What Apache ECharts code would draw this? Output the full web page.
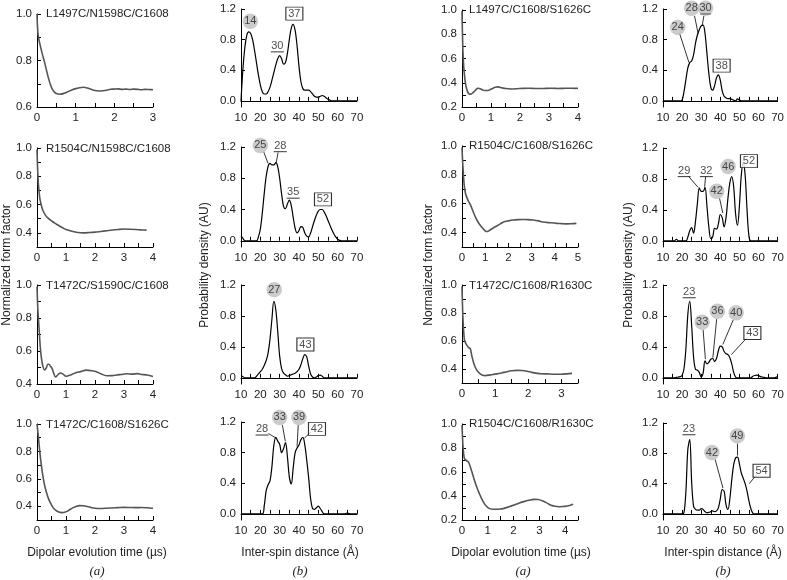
<!DOCTYPE html>
<html><head><meta charset="utf-8">
<script src="https://cdn.jsdelivr.net/npm/echarts@6/dist/echarts.min.js"></script>
<style>html,body{margin:0;padding:0;background:#fff}#c{width:787px;height:580px}</style>
</head><body><div id="c"></div><script>
// ---------- DATA ----------
// Panel titles
const titlesA = ['L1497C/N1598C/C1608','R1504C/N1598C/C1608','T1472C/S1590C/C1608','T1472C/C1608/S1626C'];
const titlesC = ['L1497C/C1608/S1626C','R1504C/C1608/S1626C','T1472C/C1608/R1630C','R1504C/C1608/R1630C'];

// Time-domain traces (t in µs, normalized form factor)
const tA1 = [0,0.02,0.05,0.1,0.15,0.2,0.25,0.3,0.35,0.4,0.45,0.5,0.6,0.7,0.8,0.9,1.0,1.1,1.2,1.3,1.4,1.5,1.6,1.7,1.8,1.9,2.0,2.1,2.2,2.3,2.4,2.5,2.6,2.7,2.8,2.9,3.0];
const fA1 = [1.0,0.925,0.89,0.853,0.82,0.79,0.755,0.722,0.695,0.676,0.664,0.658,0.655,0.659,0.666,0.673,0.679,0.683,0.685,0.682,0.676,0.671,0.669,0.67,0.672,0.676,0.677,0.678,0.676,0.677,0.675,0.677,0.676,0.674,0.676,0.675,0.674];
const tA2 = [0,0.02,0.05,0.1,0.15,0.2,0.3,0.4,0.5,0.6,0.7,0.8,0.9,1.0,1.2,1.4,1.6,1.8,2.0,2.2,2.4,2.6,2.8,3.0,3.2,3.4,3.6,3.78];
const fA2 = [0.99,0.86,0.74,0.64,0.595,0.56,0.522,0.5,0.485,0.47,0.457,0.445,0.434,0.424,0.412,0.403,0.4,0.402,0.405,0.41,0.415,0.42,0.424,0.427,0.426,0.424,0.421,0.419];
const tA3 = [0,0.03,0.07,0.11,0.15,0.2,0.26,0.32,0.37,0.41,0.46,0.52,0.57,0.64,0.72,0.8,0.9,1.0,1.1,1.2,1.36,1.5,1.7,1.9,2.05,2.2,2.4,2.6,2.75,2.9,3.1,3.3,3.45,3.6,3.8,4.0];
const fA3 = [0.99,0.85,0.74,0.63,0.56,0.51,0.485,0.497,0.52,0.52,0.508,0.495,0.468,0.442,0.456,0.467,0.46,0.447,0.452,0.458,0.47,0.475,0.484,0.48,0.474,0.462,0.45,0.451,0.455,0.458,0.462,0.46,0.463,0.458,0.455,0.446];
const tA4 = [0,0.05,0.1,0.15,0.2,0.25,0.3,0.38,0.45,0.55,0.65,0.75,0.85,0.95,1.05,1.15,1.25,1.35,1.47,1.6,1.7,1.85,2.0,2.2,2.4,2.6,2.8,3.0,3.2,3.4,3.6,3.8,4.0];
const fA4 = [1.0,0.9,0.79,0.7,0.625,0.565,0.52,0.465,0.43,0.392,0.37,0.358,0.354,0.356,0.365,0.378,0.39,0.399,0.405,0.404,0.4,0.392,0.386,0.384,0.386,0.388,0.39,0.392,0.391,0.39,0.391,0.389,0.386];
const tC1 = [0,0.03,0.06,0.1,0.14,0.18,0.22,0.27,0.31,0.37,0.43,0.49,0.54,0.6,0.66,0.72,0.77,0.85,0.95,1.05,1.15,1.23,1.3,1.4,1.5,1.7,1.9,2.1,2.3,2.5,2.7,2.9,3.1,3.3,3.5,3.7,3.9,4.0];
const fC1 = [0.99,0.67,0.53,0.43,0.368,0.335,0.314,0.306,0.306,0.316,0.33,0.345,0.355,0.353,0.347,0.34,0.336,0.336,0.341,0.352,0.362,0.366,0.363,0.357,0.352,0.349,0.351,0.354,0.355,0.353,0.352,0.354,0.355,0.353,0.354,0.355,0.354,0.355];
const tC2 = [0,0.04,0.1,0.15,0.19,0.27,0.36,0.5,0.6,0.71,0.82,0.93,1.0,1.07,1.14,1.21,1.35,1.5,1.65,1.79,2.0,2.21,2.42,2.64,2.85,3.07,3.3,3.5,3.8,4.07,4.3,4.5,4.7,4.93];
const fC2 = [0.99,0.856,0.72,0.672,0.651,0.62,0.594,0.537,0.5,0.468,0.443,0.423,0.412,0.407,0.41,0.418,0.432,0.446,0.46,0.473,0.481,0.487,0.49,0.491,0.49,0.487,0.481,0.473,0.468,0.464,0.462,0.46,0.461,0.464];
const tC3 = [0,0.03,0.07,0.1,0.13,0.2,0.25,0.3,0.37,0.45,0.55,0.62,0.7,0.86,1.06,1.2,1.36,1.5,1.66,1.8,1.96,2.1,2.27,2.4,2.57,2.72,2.87,3.0,3.17,3.32];
const fC3 = [0.99,0.753,0.612,0.59,0.576,0.553,0.546,0.49,0.43,0.39,0.365,0.356,0.353,0.358,0.365,0.372,0.381,0.387,0.39,0.389,0.384,0.376,0.369,0.366,0.365,0.363,0.362,0.363,0.365,0.369];
const tC4 = [0,0.04,0.09,0.15,0.2,0.25,0.32,0.4,0.48,0.57,0.67,0.76,0.86,0.95,1.05,1.18,1.31,1.47,1.63,1.82,2.02,2.2,2.4,2.6,2.79,2.95,3.11,3.27,3.43,3.6,3.76,3.92,4.08,4.2,4.31];
const fC4 = [0.99,0.81,0.714,0.7,0.69,0.685,0.644,0.59,0.533,0.475,0.422,0.378,0.339,0.315,0.297,0.29,0.289,0.291,0.297,0.31,0.325,0.34,0.353,0.364,0.372,0.371,0.361,0.345,0.325,0.315,0.311,0.312,0.317,0.323,0.331];

// Distance distributions (r in Å, probability density AU)
const rB1 = [10,11,12,13,14,15,16,17,18,19,20,21,22,23,24,25,26,27,28,29,30,31,32,33,34,35,36,37,38,39,40,41,42,43,44,45,46,47,48,49,50,51,52,53,54,55,56,57,70];
const pB1 = [0.0,0.42,0.7,0.86,0.9,0.88,0.8,0.66,0.5,0.34,0.21,0.12,0.09,0.09,0.12,0.18,0.27,0.37,0.47,0.55,0.59,0.55,0.48,0.5,0.62,0.8,0.95,1.0,0.92,0.72,0.45,0.25,0.16,0.14,0.14,0.14,0.12,0.09,0.06,0.05,0.05,0.06,0.07,0.06,0.04,0.02,0.01,0.0,0.0];
const rB2 = [10,11,12,18,19,20,21,22,23,24,25,26,27,28,29,30,31,32,33,34,35,36,37,38,39,40,41,42,43,44,45,46,47,48,49,50,51,52,53,54,55,56,57,58,59,60,61,62,70];
const pB2 = [0.06,0.03,0.0,0.0,0.05,0.15,0.35,0.6,0.82,0.95,0.99,0.97,0.97,1.0,0.95,0.8,0.6,0.44,0.41,0.47,0.52,0.45,0.3,0.16,0.1,0.13,0.18,0.17,0.1,0.06,0.05,0.1,0.18,0.26,0.33,0.38,0.4,0.4,0.37,0.32,0.26,0.2,0.14,0.09,0.05,0.02,0.005,0.0,0.0];
const rB3 = [10,11,12,17,18,19,20,21,22,23,24,25,26,27,28,29,30,31,32,33,34,35,36,37,38,39,40,41,42,43,44,45,46,47,48,49,50,51,52,53,70];
const pB3 = [0.03,0.015,0.0,0.0,0.02,0.05,0.08,0.11,0.16,0.22,0.32,0.5,0.76,0.99,0.88,0.6,0.28,0.12,0.06,0.04,0.02,0.03,0.04,0.05,0.06,0.08,0.11,0.17,0.25,0.3,0.27,0.15,0.05,0.01,0.0,0.01,0.03,0.035,0.02,0.0,0.0];
const rB4 = [10,21,22,23,24,25,26,27,28,29,30,31,32,33,34,35,36,37,38,39,40,41,42,43,44,45,46,47,48,49,50,51,52,53,63,65,67,70];
const pB4 = [0.0,0.0,0.1,0.3,0.38,0.43,0.62,0.9,1.0,0.95,0.91,0.8,0.85,0.93,0.75,0.48,0.39,0.6,0.8,0.86,0.9,0.97,1.0,0.9,0.7,0.47,0.2,0.07,0.06,0.08,0.1,0.07,0.03,0.0,0.0,0.01,0.0,0.0];
const rD1 = [10,19,20,21,22,23,24,25,26,27,28,29,30,31,32,33,34,35,36,37,38,39,40,41,42,43,44,45,46,47,48,49,50,51,70];
const pD1 = [0,0,0.01,0.12,0.28,0.43,0.5,0.52,0.6,0.75,0.86,0.93,0.98,0.99,0.88,0.62,0.36,0.18,0.14,0.2,0.3,0.34,0.27,0.13,0.06,0.04,0.03,0.03,0.02,0.01,0.0,0.025,0.01,0.0,0.0];
const rD2 = [10,16,17,18,22,23,24,25,26,27,28,29,30,31,32,33,34,35,36,37,38,39,40,41,42,43,44,45,46,47,48,49,50,51,52,53,54,55,56,70];
const pD2 = [0,0,0.02,0,0,0.05,0.13,0.17,0.1,0.25,0.48,0.68,0.64,0.64,0.69,0.45,0.18,0.03,0.05,0.16,0.15,0.22,0.34,0.3,0.18,0.3,0.55,0.75,0.83,0.7,0.35,0.2,0.45,0.85,1.0,0.85,0.4,0.06,0.0,0.0];
const rD3 = [10,16,17,18,19,20,21,22,23,24,25,26,27,28,29,30,31,32,33,34,35,36,37,38,39,40,41,42,43,44,45,46,47,48,49,56,57,58,59,60,61,62,63,64,68,69,70];
const pD3 = [0,0,0.005,0.01,0.015,0.03,0.12,0.38,0.82,0.99,0.68,0.27,0.11,0.1,0.07,0.01,0.06,0.22,0.18,0.2,0.24,0.25,0.21,0.25,0.35,0.41,0.4,0.34,0.31,0.3,0.26,0.18,0.07,0.01,0.0,0.0,0.02,0.03,0.035,0.03,0.015,0.01,0.005,0,0,0.005,0.015];
const rD4 = [10,20,21,22,23,24,25,26,27,28,29,30,31,32,33,34,35,36,37,38,39,40,41,42,43,44,45,46,47,48,49,50,51,52,53,54,55,56,57,58,70];
const pD4 = [0,0,0.02,0.3,0.85,0.98,0.42,0.1,0.06,0.05,0.05,0.07,0.06,0.03,0.015,0.02,0.03,0.04,0.03,0.04,0.08,0.2,0.32,0.3,0.12,0.06,0.2,0.45,0.65,0.74,0.75,0.66,0.54,0.47,0.4,0.3,0.17,0.07,0.01,0.0,0.0];

// Tick labels
const timeYLabels = [0.2,0.4,0.6,0.8,1.0];
const distXLabels = [10,20,30,40,50,60,70];
const distYLabels = [0.0,0.4,0.8,1.2];

// Peak annotations (kind, text, r, density)
const annB1 = [['circle','14',14.8,1.04],['under','30',28.8,0.64],['box','37',37.6,1.14]];
const annB2 = [['circle','25',20,1.22],['under','28',30.3,1.14],['under','35',37,0.545],['box','52',52.4,0.53]];
const annB3 = [['circle','27',27.2,1.14],['box','43',43.3,0.43]];
const annB4 = [['under','28',20.9,1.03],['circle','33',30,1.26],['circle','39',40,1.26],['box','42',49.3,1.11]];
const annD1 = [['circle','24',17.7,0.96],['circle','28',25,1.21],['circleu','30',32.3,1.21],['box','38',40.7,0.46]];
const annD2 = [['under','29',21.1,0.83],['under','32',32.7,0.83],['circle','42',38.1,0.64],['circle','46',44.1,0.96],['box','52',55,1.03]];
const annD3 = [['under','23',23.7,1.035],['circle','33',30.5,0.72],['circle','36',38.5,0.86],['circle','40',48.3,0.84],['box','43',56.8,0.58]];
const annD4 = [['under','23',23.6,1.045],['circle','42',35.6,0.81],['circle','49',48.9,1.03],['box','54',61.6,0.57]];
// Leader lines (from r, from p, to r, to p)
const leadB2 = [[21.7,1.14,24,0.99],[29.2,1.13,28.2,1.0]];
const leadB4 = [[24.2,1.05,27.8,0.995],[31.4,1.16,32.9,0.95],[39.6,1.16,39,0.88],[46.2,1.07,42.8,0.99]];
const leadD1 = [[18.7,0.88,23.6,0.5],[26.5,1.11,28.4,0.88],[31.4,1.11,30.5,0.98]];
const leadD2 = [[23.5,0.83,28.4,0.69],[32.3,0.83,31.8,0.7],[39.6,0.55,41.3,0.36]];
const leadD3 = [[31,0.62,32.2,0.24],[38.1,0.76,36.1,0.26],[46.8,0.75,41.3,0.43],[54,0.52,45.8,0.3]];
const leadD4 = [[37.3,0.72,41.4,0.34],[48.9,0.93,48.9,0.77],[59,0.52,55.2,0.4]];

// ---------- LAYOUT / BUILD ----------
const FONT = '"Liberation Sans", Arial, sans-serif';
const TXT = '#222';
const grids = [
  {left:37, top:14, width:116, height:93},
  {left:37, top:148, width:116, height:99},
  {left:37, top:285, width:116, height:99},
  {left:37, top:424, width:116, height:96},
  {left:241, top:9, width:116, height:98},
  {left:241, top:147, width:116, height:100},
  {left:241, top:285, width:116, height:99},
  {left:241, top:422, width:116, height:98},
  {left:462, top:10, width:116, height:97},
  {left:462, top:146, width:116, height:101},
  {left:462, top:285, width:116, height:98},
  {left:462, top:424, width:116, height:96},
  {left:663, top:9, width:118, height:98},
  {left:663, top:148, width:118, height:99},
  {left:663, top:285, width:118, height:99},
  {left:663, top:423, width:118, height:97}
];
const timeSets = {
  0:{t:tA1,f:fA1,xMax:3,yMin:0.6}, 1:{t:tA2,f:fA2,xMax:4,yMin:0.3},
  2:{t:tA3,f:fA3,xMax:4,yMin:0.4}, 3:{t:tA4,f:fA4,xMax:4,yMin:0.3},
  8:{t:tC1,f:fC1,xMax:4,yMin:0.2}, 9:{t:tC2,f:fC2,xMax:5,yMin:0.3},
  10:{t:tC3,f:fC3,xMax:3.5,yMin:0.3}, 11:{t:tC4,f:fC4,xMax:4.5,yMin:0.2}
};
const distSets = {
  4:{r:rB1,p:pB1,a:annB1,l:[]}, 5:{r:rB2,p:pB2,a:annB2,l:leadB2},
  6:{r:rB3,p:pB3,a:annB3,l:[]}, 7:{r:rB4,p:pB4,a:annB4,l:leadB4},
  12:{r:rD1,p:pD1,a:annD1,l:leadD1}, 13:{r:rD2,p:pD2,a:annD2,l:leadD2},
  14:{r:rD3,p:pD3,a:annD3,l:leadD3}, 15:{r:rD4,p:pD4,a:annD4,l:leadD4}
};
const axisLine = {show:true, lineStyle:{color:'#000', width:1}};
const tick = {show:true, inside:true, length:4, lineStyle:{color:'#000', width:1}};
const lab = {fontSize:11.5, color:TXT, fontFamily:FONT};
const xAxes = [], yAxes = [], series = [];
grids.forEach((g, i) => {
  if (timeSets[i]) {
    const s = timeSets[i];
    xAxes.push({type:'value', gridIndex:i, min:0, max:s.xMax, interval:0.5, axisLine, axisTick:tick, splitLine:{show:false},
      axisLabel:Object.assign({margin:5, showMaxLabel:true, formatter:v => Math.abs(v-Math.round(v))<1e-6 ? String(Math.round(v)) : ''}, lab)});
    yAxes.push({type:'value', gridIndex:i, min:s.yMin, max:1, interval:0.1, axisLine, axisTick:tick, splitLine:{show:false},
      axisLabel:Object.assign({margin:5, formatter:v => timeYLabels.some(l => Math.abs(l-v)<1e-6) && Math.round(v*10)%2===0 ? v.toFixed(1) : ''}, lab)});
    series.push({type:'line', xAxisIndex:i, yAxisIndex:i, data:s.t.map((x,k)=>[x,s.f[k]]), showSymbol:false, smooth:0.3,
      lineStyle:{color:'#555', width:1.6}, silent:true});
  } else {
    const s = distSets[i];
    xAxes.push({type:'value', gridIndex:i, min:10, max:70, interval:5, axisLine, axisTick:tick, splitLine:{show:false},
      axisLabel:Object.assign({margin:5, showMaxLabel:true, formatter:v => distXLabels.includes(v) ? String(v) : ''}, lab)});
    yAxes.push({type:'value', gridIndex:i, min:-0.08, max:1.2, axisLine, splitLine:{show:false},
      axisTick:Object.assign({customValues:distYLabels}, tick),
      axisLabel:Object.assign({margin:5, customValues:distYLabels, formatter:v => v.toFixed(1)}, lab)});
    series.push({type:'line', xAxisIndex:i, yAxisIndex:i, data:s.r.map((x,k)=>[x,s.p[k]]), showSymbol:false, smooth:0.35,
      lineStyle:{color:'#000', width:1.2}, silent:true});
    const items = [];
    s.a.forEach(([kind, text, x, y]) => {
      const lbl = {show:true, formatter:text, fontSize:11, fontFamily:FONT, color:'#222'};
      if (kind === 'circle' || kind === 'circleu') {
        items.push({value:[x,y], symbol:'circle', symbolSize:15.5, itemStyle:{color:'#bebebe'}, label:Object.assign({position:'inside'}, lbl)});
        if (kind === 'circleu') items.push({value:[x,y-0.075], symbol:'rect', symbolSize:[11,1], itemStyle:{color:'#333'}, label:{show:false}});
      } else if (kind === 'box') {
        items.push({value:[x,y], symbol:'rect', symbolSize:[17,13], itemStyle:{color:'#fff', borderColor:'#000', borderWidth:1}, label:Object.assign({position:'inside'}, lbl)});
      } else {
        items.push({value:[x,y], symbol:'rect', symbolSize:[13,1], itemStyle:{color:'#000'}, label:Object.assign({position:'top', distance:0}, lbl)});
      }
    });
    if (s.l.length) series.push({type:'lines', coordinateSystem:'cartesian2d', xAxisIndex:i, yAxisIndex:i, silent:true, z:3,
      lineStyle:{color:'#000', width:0.8, opacity:1, curveness:0}, data:s.l.map(a => ({coords:[[a[0],a[1]],[a[2],a[3]]]}))});
    series.push({type:'scatter', xAxisIndex:i, yAxisIndex:i, data:items, clip:false, silent:true, z:5});
  }
});

const graphics = [];
const txt = (x, y, text, extra) => graphics.push({type:'text', x, y, style:Object.assign({text, fill:TXT, font:'12px ' + FONT, textAlign:'center', textVerticalAlign:'middle'}, extra || {})});
const titleY = [[14,149,286,425],[10,146,286,424]];
titlesA.forEach((t,k) => graphics.push({type:'text', x:46, y:titleY[0][k], style:{text:t, fill:TXT, font:'11.5px ' + FONT, textAlign:'left', textVerticalAlign:'middle'}}));
titlesC.forEach((t,k) => graphics.push({type:'text', x:469, y:titleY[1][k], style:{text:t, fill:TXT, font:'11.5px ' + FONT, textAlign:'left', textVerticalAlign:'middle'}}));
[[97,'Dipolar evolution time (\u00b5s)'],[300,'Inter-spin distance (\u00c5)'],[521,'Dipolar evolution time (\u00b5s)'],[723,'Inter-spin distance (\u00c5)']].forEach(([x,t]) => txt(x, 553, t));
[[97,'(a)'],[300,'(b)'],[523,'(a)'],[723,'(b)']].forEach(([x,t]) => txt(x, 572, t, {font:'italic 13px "Liberation Serif", "Times New Roman", serif'}));
[[7,'Normalized form factor'],[205,'Probability density (AU)'],[429,'Normalized form factor'],[629,'Probability density (AU)']].forEach(([x,t]) =>
  graphics.push({type:'text', x, y:265, rotation:Math.PI/2, style:{text:t, fill:TXT, font:'12px ' + FONT, textAlign:'center', textVerticalAlign:'middle'}}));

const chart = echarts.init(document.getElementById('c'), null, {renderer:'canvas'});
chart.setOption({animation:false, backgroundColor:'#fff', grid:grids, xAxis:xAxes, yAxis:yAxes, series, graphic:graphics});
</script></body></html>
